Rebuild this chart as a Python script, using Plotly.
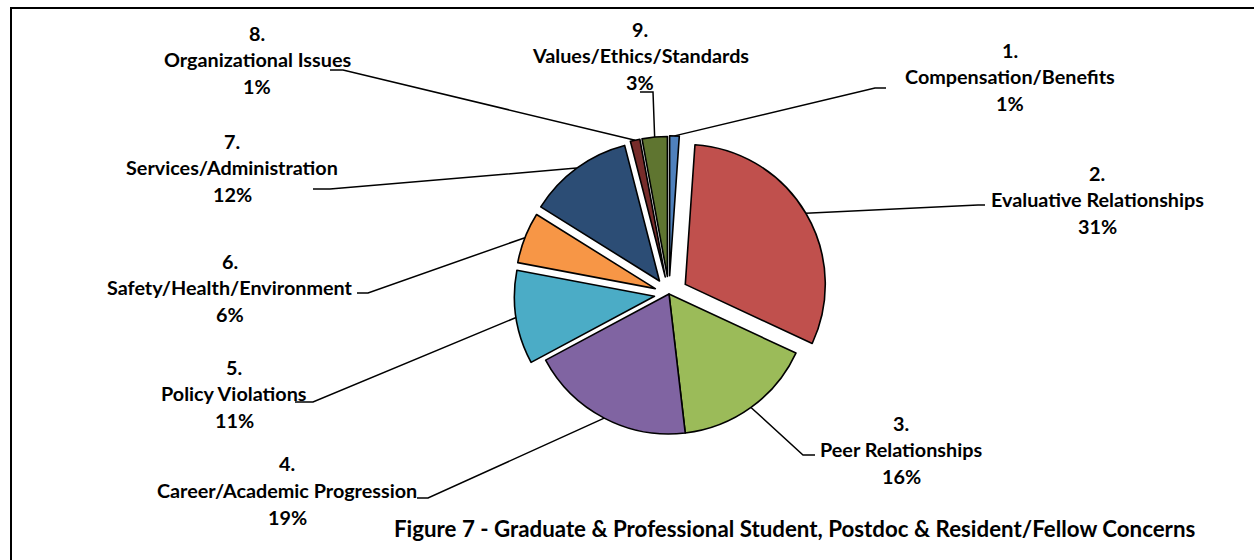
import math
import plotly.graph_objects as go

# ---- data ----
numbers = ["1.", "2.", "3.", "4.", "5.", "6.", "7.", "8.", "9."]
categories = [
    "Compensation/Benefits",
    "Evaluative Relationships",
    "Peer Relationships",
    "Career/Academic Progression",
    "Policy Violations",
    "Safety/Health/Environment",
    "Services/Administration",
    "Organizational Issues",
    "Values/Ethics/Standards",
]
values = [1.1, 30.8, 16.2, 19.0, 10.8, 5.9, 12.1, 1.1, 2.9]
title_text = "Figure 7 - Graduate & Professional Student, Postdoc & Resident/Fellow Concerns"

# ---- style / layout ----
colors = ["#4F81BD", "#C0504D", "#9BBB59", "#8064A2", "#4BACC6",
          "#F79646", "#2C4D75", "#772C2A", "#5F7530"]
pulls = [0.13, 0.135, 0.0, 0.0, 0.105, 0.105, 0.115, 0.125, 0.125]

W, H = 1254, 560
CX, CY, R = 669, 294, 140          # pie centre / radius in pixels
FONT = "Lato"
LABEL_SIZE = 19.8
TITLE_SIZE = 22.3
LINE_GAP = 26.5

# label block centres (middle line), pixels
label_pos = [(1010, 76), (1097, 199), (901, 449), (287, 490), (234, 393),
             (230, 287), (232, 167), (257, 59), (640, 55)]
# leader line: elbow point and end point near the label, pixels
elbows = [(875, 88), (978, 205), (803, 455), (428, 498), (313, 402),
          (368, 293), (330, 189), (343, 70), (653, 92)]
ends = [(886, 88), (985, 205), (815, 455), (417, 498), (295, 402),
        (357, 293), (313, 189), (330, 70), (640, 92)]


def px(x):
    return x / W


def py(y):
    return 1 - y / H


maxp = max(pulls)
side = 2 * R * (1 + maxp)
dom_x = [(CX - side / 2) / W, (CX + side / 2) / W]
dom_y = [1 - (CY + side / 2) / H, 1 - (CY - side / 2) / H]

fig = go.Figure(go.Pie(
    values=values,
    labels=categories,
    sort=False,
    direction="clockwise",
    rotation=0,
    pull=pulls,
    marker=dict(colors=colors, line=dict(color="black", width=1.6)),
    textinfo="none",
    hoverinfo="label+percent",
    showlegend=False,
    domain=dict(x=dom_x, y=dom_y),
))

total = sum(values)
shapes = []
annotations = []
cum = 0.0
for i, v in enumerate(values):
    mid = math.radians((cum + v / 2) / total * 360)
    cum += v
    rr = R * (1 + pulls[i])
    sx = CX + rr * math.sin(mid)
    sy = CY - rr * math.cos(mid)
    ex, ey = elbows[i]
    fx, fy = ends[i]
    shapes.append(dict(
        type="path", xref="paper", yref="paper",
        path=f"M {px(sx)},{py(sy)} L {px(ex)},{py(ey)} L {px(fx)},{py(fy)}",
        line=dict(color="black", width=1.5),
    ))
    pct = f"{round(v / total * 100)}%"
    lx, ly = label_pos[i]
    for k, t in enumerate([numbers[i], categories[i], pct]):
        annotations.append(dict(
            text=f"<b>{t}</b>", x=px(lx), y=py(ly + (k - 1) * LINE_GAP),
            xref="paper", yref="paper", showarrow=False,
            xanchor="center", yanchor="middle",
            font=dict(family=FONT, size=LABEL_SIZE, color="black"),
        ))

annotations.append(dict(
    text=f"<b>{title_text}</b>", x=px(794), y=py(528),
    xref="paper", yref="paper", showarrow=False,
    xanchor="center", yanchor="middle",
    font=dict(family=FONT, size=TITLE_SIZE, color="black"),
))

# chart border (left and top visible)
shapes.append(dict(
    type="path", xref="paper", yref="paper",
    path=f"M {px(11)},{-0.05} L {px(11)},{py(8)} L {1.05},{py(8)}",
    line=dict(color="black", width=2),
))

fig.update_layout(
    width=W, height=H,
    margin=dict(l=0, r=0, t=0, b=0),
    paper_bgcolor="white",
    plot_bgcolor="white",
    shapes=shapes,
    annotations=annotations,
    font=dict(family=FONT),
)

fig.write_html(
    "out.html",
    config={"displayModeBar": False},
    post_script="document.body.style.margin='0';document.body.style.padding='0';",
)
